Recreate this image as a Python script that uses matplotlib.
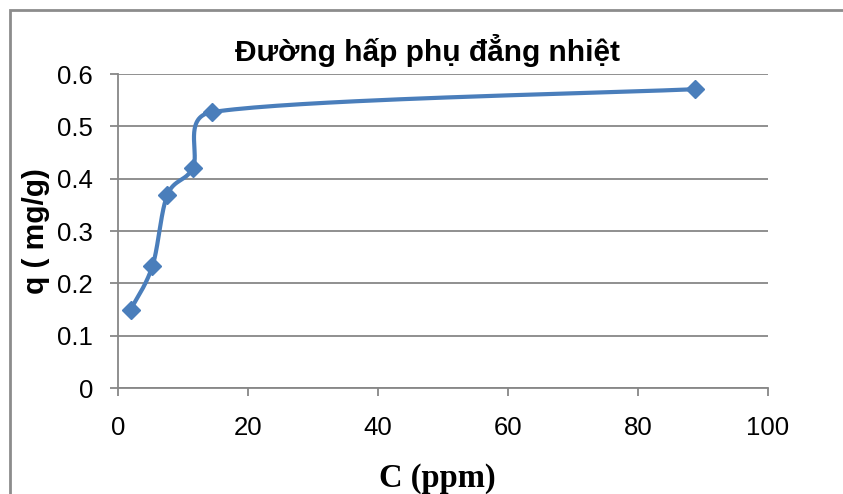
import numpy as np
import matplotlib
matplotlib.use("Agg")
import matplotlib.pyplot as plt
from matplotlib.patches import Rectangle

plt.rcParams.update(
    {
        "font.family": ["Liberation Sans", "DejaVu Sans"],
        "font.size": 18.5,
    }
)

# data
c_ppm = [1.95, 5.3, 7.6, 11.5, 14.4, 88.7]
q_mg_g = [0.150, 0.233, 0.369, 0.420, 0.527, 0.571]

title = "Đường hấp phụ đẳng nhiệt"
xlabel = "C (ppm)"
ylabel = "q ( mg/g)"

line_color = "#4A7EBB"
grid_color = "#878787"


def clamp(v, lim):
    n = np.hypot(*v)
    return v if n <= lim else v * lim / n


def excel_smooth(ax, xs, ys, n=40):
    # smoothed line like Excel: bezier in screen space, handles (p2-p0)/6
    # but never longer than half of the segment
    pts = ax.transData.transform(np.column_stack([xs, ys]))
    out = [pts[0]]
    for i in range(len(pts) - 1):
        p0 = pts[i - 1] if i > 0 else pts[i]
        p1 = pts[i]
        p2 = pts[i + 1]
        p3 = pts[i + 2] if i + 2 < len(pts) else pts[i + 1]
        d12 = np.hypot(*(p2 - p1))
        c1 = p1 + clamp((p2 - p0) / 6, 0.5 * d12)
        c2 = p2 - clamp((p3 - p1) / 6, 0.5 * d12)
        t = np.linspace(0, 1, n)[1:, None]
        seg = ((1 - t) ** 3) * p1 + 3 * ((1 - t) ** 2) * t * c1 \
            + 3 * (1 - t) * t ** 2 * c2 + t ** 3 * p2
        out.extend(seg)
    out = ax.transData.inverted().transform(np.array(out))
    return out[:, 0], out[:, 1]


fig = plt.figure(figsize=(8.43, 4.94), dpi=100)
ax = fig.add_axes([118 / 843, 1 - 388 / 494, 650 / 843, 314 / 494])

ax.set_xlim(0, 100)
ax.set_ylim(0, 0.6)
ax.set_xticks(np.arange(0, 101, 20))
ax.set_yticks(np.arange(0, 0.61, 0.1))
ax.set_yticklabels(["0", "0.1", "0.2", "0.3", "0.4", "0.5", "0.6"])

ax.yaxis.grid(True, color=grid_color, linewidth=1.3)
ax.set_axisbelow(True)
for side in ["top", "right"]:
    ax.spines[side].set_visible(False)
for side in ["left", "bottom"]:
    ax.spines[side].set_color(grid_color)
    ax.spines[side].set_linewidth(1.3)
ax.tick_params(direction="out", length=6, width=1.3, color=grid_color,
               labelsize=18.5)
ax.tick_params(axis="x", pad=14)
ax.tick_params(axis="y", pad=12)

sx, sy = excel_smooth(ax, c_ppm, q_mg_g)
ax.plot(sx, sy, color=line_color, linewidth=3, solid_capstyle="round",
        clip_on=False)
ax.plot(c_ppm, q_mg_g, "D", color=line_color, markersize=9.5, clip_on=False)

fig.text(427 / 843, 1 - 61 / 494, title, ha="center", va="baseline",
         fontsize=21.5, fontweight="bold")
fig.text(36 / 843, 1 - 231 / 494, ylabel, ha="center", va="center",
         rotation=90, fontsize=21.5, fontweight="bold")
fig.text(437 / 843, 1 - 487 / 494, xlabel, ha="center", va="baseline",
         fontsize=23.5, fontweight="bold",
         family=["Liberation Serif", "DejaVu Serif"])

# chart area border (runs off the right and bottom edge)
fig.patches.append(Rectangle((10 / 843, -0.2), 1.2, 1.2 - 10 / 494,
                             transform=fig.transFigure, fill=False,
                             edgecolor="#8c8c8c", linewidth=2))

fig.savefig("out.png", dpi=100)
